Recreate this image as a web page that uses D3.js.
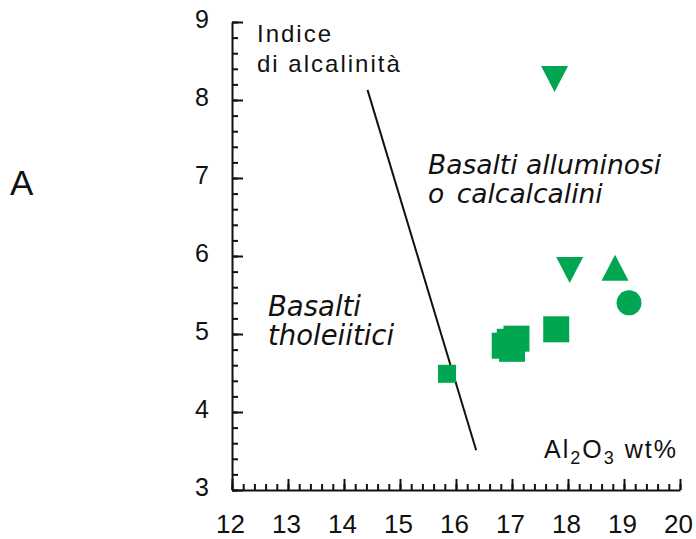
<!DOCTYPE html>
<html>
<head>
<meta charset="utf-8">
<script src="https://cdn.jsdelivr.net/npm/d3@7"></script>
<style>
  html, body { margin: 0; padding: 0; background: #fff; }
  svg { display: block; }
  .sans { font-family: "Liberation Sans", Arial, Helvetica, sans-serif; }
  .ital { font-family: "DejaVu Sans", Verdana, sans-serif; font-style: italic; }
</style>
</head>
<body>
<svg id="chart" width="696" height="539"></svg>
<script>
// Al2O3 (wt%) vs. alkalinity index
const xTicks = [12, 13, 14, 15, 16, 17, 18, 19, 20];
const yTicks = [3, 4, 5, 6, 7, 8, 9];

const smallSquareAl = [15.84];
const smallSquareIdx = [4.49];
const squareAl = [17.08, 16.96, 16.87, 17.00, 17.79];
const squareIdx = [4.94, 4.90, 4.85, 4.81, 5.06];
const circleAl = [19.09];
const circleIdx = [5.40];
const triUpAl = [18.84];
const triUpIdx = [5.85];
const triDownAl = [18.03, 17.76];
const triDownIdx = [5.82, 8.27];

// boundary line between tholeiitic and high-alumina basalts
const boundaryAl = [14.42, 16.36];
const boundaryIdx = [8.13, 3.51];

const green = "#00a651";
const svg = d3.select("#chart");

const x = d3.scaleLinear().domain([12, 20]).range([232, 680]);
const y = d3.scaleLinear().domain([3, 9]).range([490, 22]);

const minorX = d3.range(12, 20.001, 0.2).map(v => +v.toFixed(1));
const minorY = d3.range(3, 9.001, 0.2).map(v => +v.toFixed(1));

// minor ticks (inward)
svg.append("g")
  .attr("transform", `translate(0,${y(3)})`)
  .call(d3.axisBottom(x).tickValues(minorX).tickSize(-6).tickSizeOuter(0).tickFormat(""))
  .call(g => g.select(".domain").remove())
  .call(g => g.selectAll("line").attr("stroke", "#111").attr("stroke-width", 2));
svg.append("g")
  .attr("transform", `translate(${x(12)},0)`)
  .call(d3.axisLeft(y).tickValues(minorY).tickSize(-6).tickSizeOuter(0).tickFormat(""))
  .call(g => g.select(".domain").remove())
  .call(g => g.selectAll("line").attr("stroke", "#111").attr("stroke-width", 2));

// major ticks and labels
const xAxis = svg.append("g")
  .attr("class", "sans")
  .attr("transform", `translate(0,${y(3)})`)
  .call(d3.axisBottom(x).tickValues(xTicks).tickSize(-11).tickSizeOuter(0).tickPadding(25).tickFormat(d3.format("d")));
xAxis.select(".domain").attr("stroke", "#111").attr("stroke-width", 2);
xAxis.selectAll("line").attr("stroke", "#111").attr("stroke-width", 2);
xAxis.selectAll("text").attr("font-size", 26).attr("fill", "#111")
  .attr("font-family", "Liberation Sans, Arial, sans-serif").attr("dx", -2);

const yAxis = svg.append("g")
  .attr("class", "sans")
  .attr("transform", `translate(${x(12)},0)`)
  .call(d3.axisLeft(y).tickValues(yTicks).tickSize(-11).tickSizeOuter(0).tickPadding(23).tickFormat(d3.format("d")));
yAxis.select(".domain").attr("stroke", "#111").attr("stroke-width", 2);
yAxis.selectAll("line").attr("stroke", "#111").attr("stroke-width", 2);
yAxis.selectAll("text").attr("font-size", 25).attr("fill", "#111")
  .attr("font-family", "Liberation Sans, Arial, sans-serif").attr("dy", "0.22em");

// boundary line
svg.append("line")
  .attr("x1", x(boundaryAl[0])).attr("y1", y(boundaryIdx[0]))
  .attr("x2", x(boundaryAl[1])).attr("y2", y(boundaryIdx[1]))
  .attr("stroke", "#111").attr("stroke-width", 2);

// markers
const sq = (ax, ix, s) => svg.append("g").selectAll("rect")
  .data(d3.zip(ax, ix)).join("rect")
  .attr("x", d => x(d[0]) - s / 2).attr("y", d => y(d[1]) - s / 2)
  .attr("width", s).attr("height", s).attr("fill", green);
sq(smallSquareAl, smallSquareIdx, 18);
sq(squareAl, squareIdx, 26);

svg.append("g").selectAll("circle")
  .data(d3.zip(circleAl, circleIdx)).join("circle")
  .attr("cx", d => x(d[0])).attr("cy", d => y(d[1])).attr("r", 12.5).attr("fill", green);

const tri = (ax, ix, up) => svg.append("g").selectAll("path")
  .data(d3.zip(ax, ix)).join("path")
  .attr("transform", d => `translate(${x(d[0])},${y(d[1])})`)
  .attr("d", up ? "M0,-13L13.5,13L-13.5,13Z" : "M-13.5,-13L13.5,-13L0,13Z")
  .attr("fill", green);
tri(triUpAl, triUpIdx, true);
tri(triDownAl, triDownIdx, false);

// annotations
const t = svg.append("g").attr("fill", "#111");
t.append("text").attr("class", "sans").attr("x", 10).attr("y", 195)
  .attr("font-size", 35).text("A");
t.append("text").attr("class", "sans").attr("x", 257).attr("y", 42)
  .attr("font-size", 24).attr("letter-spacing", 2).text("Indice");
t.append("text").attr("class", "sans").attr("x", 257).attr("y", 72)
  .attr("font-size", 24).attr("letter-spacing", 2).text("di alcalinità");

t.append("text").attr("class", "ital").attr("x", 428).attr("y", 174)
  .attr("font-size", 26.5).text("Basalti alluminosi");
t.append("text").attr("class", "ital").attr("x", 428).attr("y", 203)
  .attr("font-size", 26.5).attr("word-spacing", 4).text("o calcalcalini");

t.append("text").attr("class", "ital").attr("x", 268).attr("y", 316)
  .attr("font-size", 27.5).text("Basalti");
t.append("text").attr("class", "ital").attr("x", 268).attr("y", 345)
  .attr("font-size", 27.5).text("tholeiitici");

const ax = t.append("text").attr("class", "sans").attr("x", 544).attr("y", 458)
  .attr("font-size", 25).attr("letter-spacing", 2);
ax.append("tspan").text("Al");
ax.append("tspan").attr("font-size", 18).attr("dy", 6).text("2");
ax.append("tspan").attr("dy", -6).text("O");
ax.append("tspan").attr("font-size", 18).attr("dy", 6).text("3");
ax.append("tspan").attr("dy", -6).text(" wt%");
</script>
</body>
</html>
